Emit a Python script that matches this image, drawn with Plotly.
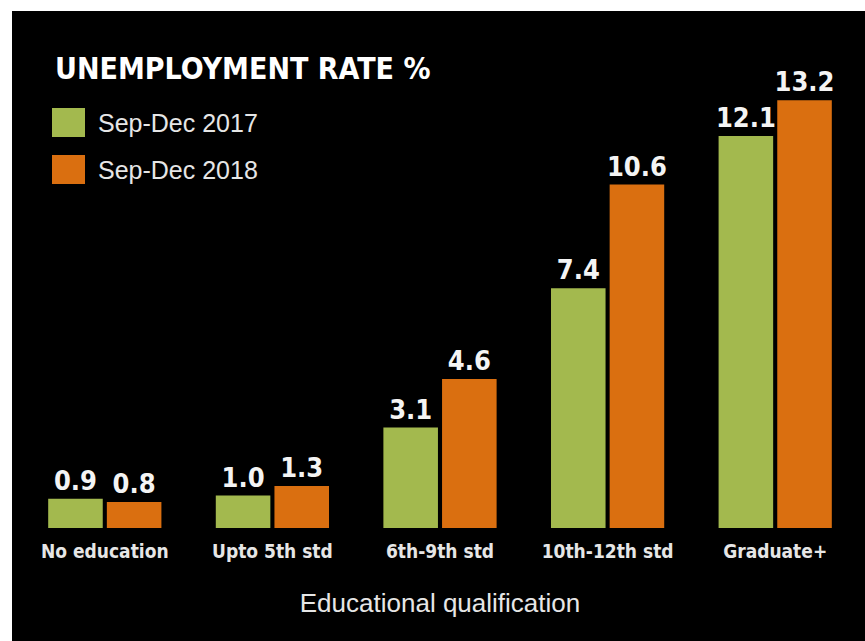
import plotly.graph_objects as go

categories = ["No education", "Upto 5th std", "6th-9th std", "10th-12th std", "Graduate+"]
series_2017 = [0.9, 1.0, 3.1, 7.4, 12.1]
series_2018 = [0.8, 1.3, 4.6, 10.6, 13.2]
series_names = ["Sep-Dec 2017", "Sep-Dec 2018"]
colors = ["#a3b94e", "#da6f10"]

W, H = 865, 641
L, R, T, B = 21, 6, 42, 113
pw, ph = W - L - R, H - T - B

def px(x):
    return (x - L) / pw

def py(y):
    return (H - B - y) / ph

cond = "Liberation Sans Narrow, DejaVu Sans Condensed, sans-serif"

fig = go.Figure()
for name, vals, col in zip(series_names, [series_2017, series_2018], colors):
    fig.add_trace(go.Bar(
        x=categories, y=vals, name=name, marker=dict(color=col, line=dict(width=0)),
        text=[f"{v:.1f}" for v in vals], textposition="outside",
        textfont=dict(family=cond, size=27, color="#f4f4f4", weight="bold"),
        constraintext="none", cliponaxis=False, showlegend=False,
    ))

shapes = [dict(type="rect", xref="paper", yref="paper", x0=px(12), x1=px(866),
               y0=py(11), y1=py(642), fillcolor="black", line=dict(width=0), layer="below")]
annotations = []
for i, (name, col) in enumerate(zip(series_names, colors)):
    y0 = 108 + i * 47
    shapes.append(dict(type="rect", xref="paper", yref="paper", x0=px(52), x1=px(85),
                       y0=py(y0 + 29), y1=py(y0), fillcolor=col, line=dict(width=0)))
    annotations.append(dict(text=name, xref="paper", yref="paper", x=px(96), y=py(y0 + 15),
                            xanchor="left", yanchor="middle", showarrow=False,
                            font=dict(family="Liberation Sans, Arial, sans-serif", size=25, color="#e6e6e6")))

fig.update_layout(
    width=W, height=H, margin=dict(l=L, r=R, t=T, b=B),
    paper_bgcolor="white", plot_bgcolor="black",
    barmode="group", bargap=0.3, bargroupgap=0.07,
    title=dict(text="<b>UNEMPLOYMENT RATE %</b>", xref="container", yref="container",
               x=55 / W, y=1 - 58 / H, xanchor="left", yanchor="top",
               font=dict(family=cond, size=30, color="white")),
    xaxis=dict(showgrid=False, zeroline=False, showline=False, ticks="outside", ticklen=6,
               tickcolor="black", range=[-0.5, 4.5],
               tickfont=dict(family=cond, size=19, color="#e6e6e6", weight="bold"),
               title=dict(text="Educational qualification", standoff=33,
                          font=dict(family="Liberation Sans, Arial, sans-serif", size=26, color="#e6e6e6"))),
    yaxis=dict(visible=False, range=[0, 15], showgrid=False, zeroline=False),
    shapes=shapes, annotations=annotations,
)

fig.write_html("out.html")
